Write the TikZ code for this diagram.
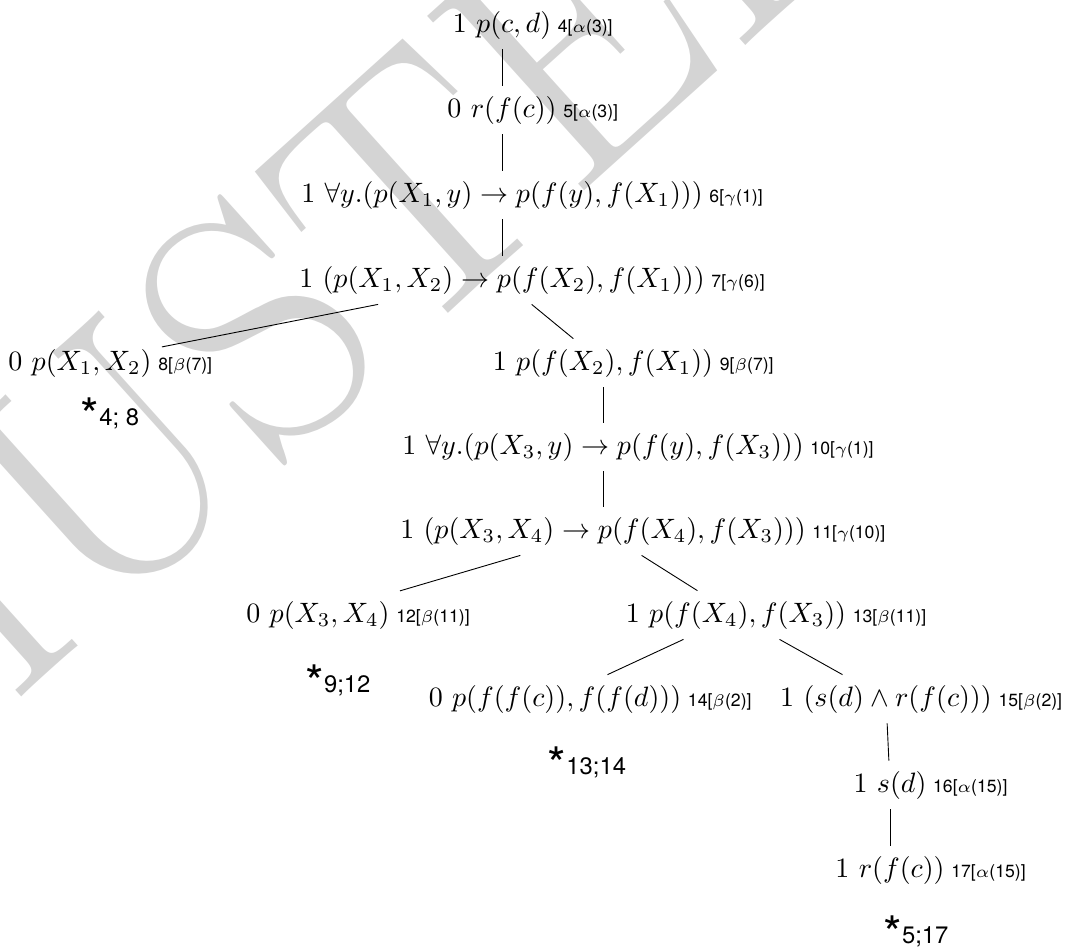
\documentclass[tikz,border=0pt]{standalone}
\usepackage{fontspec}
\setsansfont{TeX Gyre Heros}
\definecolor{wm}{gray}{0.83}
\begin{document}
\begin{tikzpicture}[x=0.357pt,y=-0.357pt,
  fml/.style={inner sep=3.5pt, text height=7.5pt, text depth=2.5pt, anchor=center},
  lab/.style={inner sep=0pt, anchor=base west, xshift=-1.5pt, font=\sffamily\fontsize{6.3}{7}\selectfont},
  clo/.style={inner sep=0pt, font=\sffamily\fontsize{8.5}{9}\selectfont},
  conn/.style={line width=0.32pt},
  wmark/.style={text=wm, inner sep=0pt, font=\fontsize{123}{123}\selectfont}]
\newcommand{\clostar}[1]{\raisebox{-2.6pt}{\fontsize{17}{17}\selectfont *}#1}
\useasboundingbox (0,0) rectangle (1071,948);
\begin{scope}
\clip (0,0) rectangle (1071,948);
\node[wmark, rotate=42, anchor=base west] (wmtext) at (-126,830) {MUSTER};
\end{scope}
% formulas
\node[fml] (n4) at (502,25) {$1\ p(c,d)$};
\node[fml] (n5) at (502,110) {$0\ r(f(c))$};
\node[fml] (n6) at (502,195) {$1\ \forall y.(p(X_1,y)\rightarrow p(f(y),f(X_1)))$};
\node[fml] (n7) at (502,280) {$1\ (p(X_1,X_2)\rightarrow p(f(X_2),f(X_1)))$};
\node[fml] (n8) at (80,363) {$0\ p(X_1,X_2)$};
\node[fml] (n9) at (603,363) {$1\ p(f(X_2),f(X_1))$};
\node[fml] (n10) at (603,447) {$1\ \forall y.(p(X_3,y)\rightarrow p(f(y),f(X_3)))$};
\node[fml] (n11) at (603,531) {$1\ (p(X_3,X_4)\rightarrow p(f(X_4),f(X_3)))$};
\node[fml] (n12) at (318,615) {$0\ p(X_3,X_4)$};
\node[fml] (n13) at (736,615) {$1\ p(f(X_4),f(X_3))$};
\node[fml] (n14) at (555,699) {$0\ p(f(f(c)),f(f(d)))$};
\node[fml] (n15) at (886,699) {$1\ (s(d)\wedge r(f(c)))$};
\node[fml] (n16) at (890,785) {$1\ s(d)$};
\node[fml] (n17) at (890,870) {$1\ r(f(c))$};
% labels
\node[lab] (l4) at (n4.base east) {4[$\alpha$(3)]};
\node[lab] (l5) at (n5.base east) {5[$\alpha$(3)]};
\node[lab] (l6) at (n6.base east) {6[$\gamma$(1)]};
\node[lab] (l7) at (n7.base east) {7[$\gamma$(6)]};
\node[lab] (l8) at (n8.base east) {8[$\beta$(7)]};
\node[lab] (l9) at (n9.base east) {9[$\beta$(7)]};
\node[lab] (l10) at (n10.base east) {10[$\gamma$(1)]};
\node[lab] (l11) at (n11.base east) {11[$\gamma$(10)]};
\node[lab] (l12) at (n12.base east) {12[$\beta$(11)]};
\node[lab] (l13) at (n13.base east) {13[$\beta$(11)]};
\node[lab] (l14) at (n14.base east) {14[$\beta$(2)]};
\node[lab] (l15) at (n15.base east) {15[$\beta$(2)]};
\node[lab] (l16) at (n16.base east) {16[$\alpha$(15)]};
\node[lab] (l17) at (n17.base east) {17[$\alpha$(15)]};
% closures
\node[clo] (c8) at (110,415) {\clostar{4; 8}};
\node[clo] (c12) at (338,682) {\clostar{9;12}};
\node[clo] (c14) at (587,764) {\clostar{13;14}};
\node[clo] (c17) at (916,933) {\clostar{5;17}};
% edges
\draw[conn] (n4) -- (n5);
\draw[conn] (n5) -- (n6);
\draw[conn] (n6) -- (n7);
\draw[conn] (n7) -- (n8);
\draw[conn] (n7) -- (n9);
\draw[conn] (n9) -- (n10);
\draw[conn] (n10) -- (n11);
\draw[conn] (n11) -- (n12);
\draw[conn] (n11) -- (n13);
\draw[conn] (n13) -- (n14);
\draw[conn] (n13) -- (n15);
\draw[conn] (n15) -- (n16);
\draw[conn] (n16) -- (n17);
\end{tikzpicture}
\end{document}
